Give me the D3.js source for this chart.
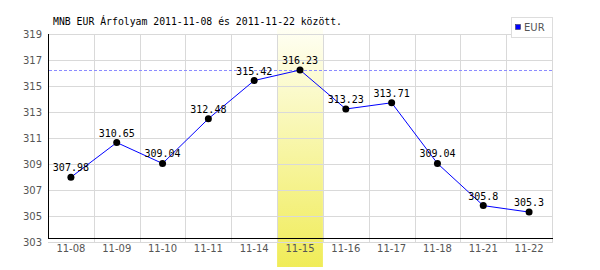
<!DOCTYPE html>
<html>
<head>
<meta charset="utf-8">
<script src="https://cdn.jsdelivr.net/npm/d3@7"></script>
<style>
  body { margin: 0; background: #fff; }
  .tick-label { font-family: "DejaVu Sans", sans-serif; font-size: 10px; fill: #555; }
  .mono { font-family: "DejaVu Sans Mono", monospace; font-size: 9.8px; fill: #000; }
  .val { font-family: "DejaVu Sans Mono", monospace; font-size: 10px; fill: #000; }
</style>
</head>
<body>
<div id="chart"></div>
<script>
// chart data
var dates = ["11-08", "11-09", "11-10", "11-11", "11-14", "11-15", "11-16", "11-17", "11-18", "11-21", "11-22"];
var rates = [307.98, 310.65, 309.04, 312.48, 315.42, 316.23, 313.23, 313.71, 309.04, 305.8, 305.3];
var rateLabels = ["307.98", "310.65", "309.04", "312.48", "315.42", "316.23", "313.23", "313.71", "309.04", "305.8", "305.3"];
var yTicks = [303, 305, 307, 309, 311, 313, 315, 317, 319];
var highlightDate = "11-15";
var seriesName = "EUR";
var title = "MNB EUR Árfolyam 2011-11-08 és 2011-11-22 között.";

var width = 600, height = 270;
var margin = { top: 34, right: 48, bottom: 28, left: 48 };

var svg = d3.select("#chart").append("svg")
  .attr("width", width)
  .attr("height", height);

var x = d3.scaleBand()
  .domain(dates)
  .range([margin.left, width - margin.right]);

var y = d3.scaleLinear()
  .domain([d3.min(yTicks), d3.max(yTicks)])
  .range([height - margin.bottom, margin.top]);

// highlight gradient
var defs = svg.append("defs");
var grad = defs.append("linearGradient")
  .attr("id", "hl")
  .attr("x1", 0).attr("y1", 0).attr("x2", 0).attr("y2", 1);
grad.append("stop").attr("offset", "0%").attr("stop-color", "#fffff4");
grad.append("stop").attr("offset", "100%").attr("stop-color", "#f0ec58");

svg.append("rect")
  .attr("x", x(highlightDate))
  .attr("y", 28)
  .attr("width", x.bandwidth())
  .attr("height", height - 3 - 28)
  .attr("fill", "url(#hl)");

// horizontal grid
svg.selectAll("line.hgrid")
  .data(yTicks)
  .enter()
  .append("line")
  .attr("class", "hgrid")
  .attr("x1", margin.left)
  .attr("x2", width - margin.right + 1)
  .attr("y1", (d) => Math.round(y(d)) + 0.5)
  .attr("y2", (d) => Math.round(y(d)) + 0.5)
  .attr("stroke", "#d9d9d9");

// vertical grid at band edges
svg.selectAll("line.vgrid")
  .data(dates)
  .enter()
  .append("line")
  .attr("class", "vgrid")
  .attr("x1", (d) => Math.round(x(d) + x.bandwidth()) + 0.5)
  .attr("x2", (d) => Math.round(x(d) + x.bandwidth()) + 0.5)
  .attr("y1", y(d3.max(yTicks)))
  .attr("y2", y(d3.min(yTicks)))
  .attr("stroke", "#d9d9d9");

// axes lines
var axisY = Math.round(y(d3.min(yTicks))) - 4 + 0.5;
svg.append("line")
  .attr("x1", margin.left + 0.5).attr("x2", margin.left + 0.5)
  .attr("y1", y(d3.max(yTicks))).attr("y2", axisY)
  .attr("stroke", "#000");
svg.append("line")
  .attr("x1", margin.left).attr("x2", width - margin.right + 1)
  .attr("y1", axisY).attr("y2", axisY)
  .attr("stroke", "#000");

// y labels
svg.selectAll("text.ylab")
  .data(yTicks)
  .enter()
  .append("text")
  .attr("class", "tick-label")
  .attr("x", margin.left - 6)
  .attr("y", (d) => y(d) + 4)
  .attr("text-anchor", "end")
  .text((d) => d);

// x labels
svg.selectAll("text.xlab")
  .data(dates)
  .enter()
  .append("text")
  .attr("class", "tick-label")
  .attr("x", (d) => x(d) + x.bandwidth() / 2)
  .attr("y", 252)
  .attr("text-anchor", "middle")
  .text((d) => d);

// max reference line
var maxY = Math.round(y(d3.max(rates))) + 0.5;
svg.append("line")
  .attr("x1", margin.left + 1).attr("x2", width - margin.right)
  .attr("y1", maxY).attr("y2", maxY)
  .attr("stroke", "#8c8cff")
  .attr("stroke-dasharray", "3,2");

// series line
var line = d3.line()
  .x((d, i) => x(dates[i]) + x.bandwidth() / 2)
  .y((d) => y(d));

svg.append("path")
  .datum(rates)
  .attr("d", line)
  .attr("fill", "none")
  .attr("stroke", "#0000ff")
  .attr("stroke-width", 1);

// points
svg.selectAll("circle")
  .data(rates)
  .enter()
  .append("circle")
  .attr("cx", (d, i) => x(dates[i]) + x.bandwidth() / 2)
  .attr("cy", (d) => y(d))
  .attr("r", 3.5)
  .attr("fill", "#000");

// value labels
svg.selectAll("text.val")
  .data(rates)
  .enter()
  .append("text")
  .attr("class", "val")
  .attr("x", (d, i) => x(dates[i]) + x.bandwidth() / 2)
  .attr("y", (d) => y(d) - 6)
  .attr("text-anchor", "middle")
  .text((d, i) => rateLabels[i]);

// title
svg.append("text")
  .attr("class", "mono")
  .attr("x", 53)
  .attr("y", 25)
  .text(title);

// legend
svg.append("rect")
  .attr("x", 511.5).attr("y", 17.5)
  .attr("width", 41).attr("height", 20)
  .attr("fill", "#fff")
  .attr("stroke", "#ddd");
svg.append("rect")
  .attr("x", 515.5).attr("y", 24.5)
  .attr("width", 5).attr("height", 5)
  .attr("fill", "#0000ff")
  .attr("stroke", "#333")
  .attr("stroke-width", 0.5);
svg.append("text")
  .attr("class", "tick-label")
  .attr("x", 524)
  .attr("y", 31)
  .text(seriesName);
</script>
</body>
</html>
